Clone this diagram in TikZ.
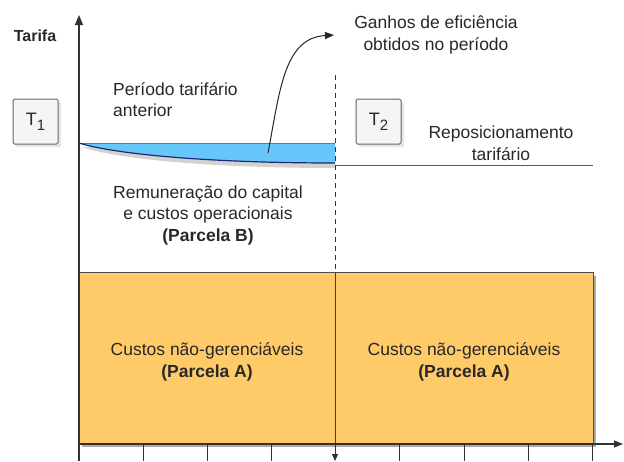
\documentclass[tikz,border=0pt]{standalone}
\usepackage{fontspec}
\setmainfont{Liberation Sans}
\usetikzlibrary{arrows.meta,shadows}
\definecolor{orangebox}{RGB}{255,202,104}
\definecolor{bluefill}{RGB}{102,200,250}
\definecolor{navy}{RGB}{30,40,110}
\definecolor{txt}{RGB}{40,40,40}
\definecolor{axisc}{RGB}{50,50,50}
\tikzset{
  lbl/.style={text=txt,font=\fontsize{17.5}{21.5}\selectfont,align=center,inner sep=0pt},
  tbox/.style={draw=black!60,fill=black!4,rounded corners=1.5pt,minimum width=45pt,minimum height=45pt,line width=1pt,
    font=\fontsize{18}{20}\selectfont,text=txt,drop shadow={shadow xshift=3pt,shadow yshift=-3pt,fill=black!12,opacity=0.8}},
  axis/.style={draw=axisc,line width=1.1pt},
  tick/.style={draw=axisc,line width=1pt}
}
\newcommand{\tsub}[1]{T\raisebox{-5pt}{\fontsize{15}{15}\selectfont #1}}
\begin{document}
\begin{tikzpicture}[x=1pt,y=-1pt]
\useasboundingbox (0,0) rectangle (624,461);
% orange block
\node[fill=orangebox,draw=black!70,line width=1pt,minimum width=514pt,minimum height=171pt,inner sep=0pt,
  drop shadow={shadow xshift=3pt,shadow yshift=-4pt,fill=black!55,opacity=0.6}] (blk) at (336,357.5) {};
\coordinate (mtop) at (335,272);
\coordinate (mbot) at (335,443);
\draw[draw=black!75,line width=1pt] (mtop) -- (mbot);
% blue gain region
\fill[black!35,opacity=0.5] (82,147) .. controls (113,158) and (203,168) .. (335,168) -- (335,150) -- cycle;
\fill[bluefill] (79,143) -- (335,143) -- (335,163) .. controls (200,163) and (110,153) .. (79,143) -- cycle;
\draw[black!55,line width=1pt] (79,143) -- (335,143);
\draw[navy,line width=1.2pt] (79,143) .. controls (110,153) and (200,163) .. (335,163);
% T2 level line
\coordinate (l2a) at (335,165);
\coordinate (l2b) at (593,165);
\draw[black!65,line width=1pt] (l2a) -- (l2b);
% dashed divider
\coordinate (dtop) at (335,75);
\coordinate (dend) at (335,461);
\draw[axisc,line width=1pt,dash pattern=on 5pt off 4pt] (dtop) -- (mtop);
\draw[axisc,line width=1pt,-{Triangle[length=7pt,width=6pt]}] (mbot) -- (dend);
% axes
\coordinate (o) at (79,444);
\coordinate (ytip) at (79,15);
\coordinate (ybot) at (79,461);
\coordinate (xtip) at (623,444);
\draw[axis,-{Triangle[length=10pt,width=8pt]}] (ybot) -- (ytip);
\draw[axis,-{Triangle[length=9pt,width=7pt]}] (o) -- (xtip);
\foreach \x in {143,207,271,399,464,528,592}{
  \draw[tick] (\x,444) -- (\x,461);
}
% labels
\node[text=txt,font=\bfseries\fontsize{16}{18}\selectfont,inner sep=0pt] (tarifa) at (35,36) {Tarifa};
\node[tbox] (t1) at (35.5,121.5) {\tsub{1}};
\node[tbox] (t2) at (378.5,121.5) {\tsub{2}};
\node[lbl,align=left,anchor=west] (ant) at (113,99.5) {Período tarifário\\anterior};
\node[lbl] (ganhos) at (436,35) {Ganhos de eficiência\\obtidos no período};
\node[lbl] (repo) at (501,143) {Reposicionamento\\tarifário};
\node[lbl] (rem) at (208,215) {Remuneração do capital\\e custos operacionais\\\textbf{(Parcela B)}};
\node[lbl] (ca1) at (207,362) {Custos não-gerenciáveis\\\textbf{(Parcela A)}};
\node[lbl] (ca2) at (464,362) {Custos não-gerenciáveis\\\textbf{(Parcela A)}};
% gain arrow
\coordinate (gs) at (268,153);
\coordinate (ge) at (334,35);
\draw[black!85,line width=1pt,-{Triangle[length=9pt,width=7pt]}] (gs) .. controls (280,90) and (284,38) .. (ge);
\end{tikzpicture}
\end{document}
